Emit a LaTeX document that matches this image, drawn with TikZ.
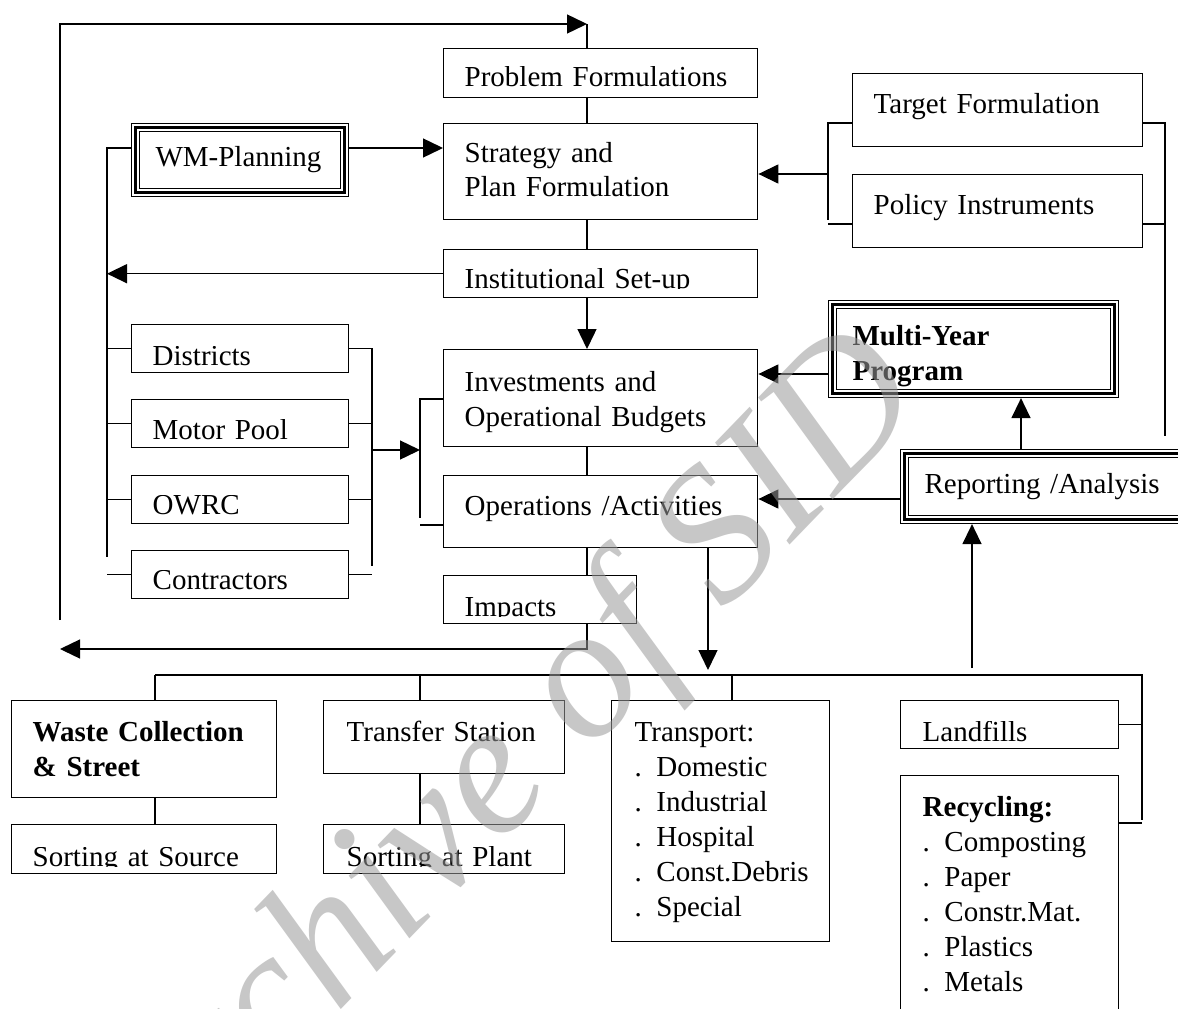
\documentclass[tikz,border=0pt]{standalone}
\usepackage{fontspec}
\setmainfont{Liberation Serif}
\usepackage{trimclip}
\usetikzlibrary{arrows.meta}

% text whose lower part is cut off at the baseline
\newcommand\cutbase[1]{\clipbox{0pt {\depth} 0pt 0pt}{#1}}
% inner thick and thin frames of a triple-lined box
\newcommand\triframe[1]{%
  \draw[line width=2.6pt] ([shift={(4.5,4.5)}]#1.north west) rectangle ([shift={(-4.5,-4.5)}]#1.south east);
  \draw[line width=1.1pt] ([shift={(8.5,8.5)}]#1.north west) rectangle ([shift={(-8.5,-8.5)}]#1.south east);}

\tikzset{
  ln/.style={line width=1.4pt},
  arr/.style={ln, -{Triangle[length=20pt,width=19pt]}},
  lead/.style={font=\fontsize{29}{#1}\selectfont},
  box/.style={draw, line width=1.4pt, anchor=north west, inner sep=0pt,
    align=left, lead=35},
  tri/.style={box, line width=1.1pt},
  sz/.style n args={4}{text width=#1pt, text height=#2pt, text depth=#3pt,
    execute at begin node={\leftskip=#4pt\relax}},
}

\begin{document}
\begin{tikzpicture}[x=1pt,y=-1pt]
\useasboundingbox (0,0) rectangle (1178,1009);
\fill[white] (0,0) rectangle (1178,1009);
\clip (0,0) rectangle (1178,1009);

% ---- central column
\node[box, sz={314}{38}{11}{21}] (pf) at (443,48) {\cutbase{Problem Formulations}};
\node[box, sz={314}{39}{57}{21}, lead=34] (st) at (443,123) {Strategy and\\Plan Formulation};
\node[box, sz={314}{39}{9}{21}] (inst) at (443,249) {\cutbase{Institutional Set-up}};
\node[box, sz={314}{42}{55}{21}, lead=34.5] (inv) at (443,349) {Investments and\\Operational Budgets};
\node[box, sz={314}{39.5}{32.5}{21}] (ops) at (443,475) {Operations /Activities};
\node[box, sz={193}{40.5}{7.5}{21}] (imp) at (443,575) {\cutbase{Impacts}};

% ---- planning and organisation (left)
\node[tri, sz={217}{43}{30}{24}] (wm) at (131,123) {WM-Planning};
\triframe{wm}
\node[box, sz={217}{40.5}{7.5}{21}] (dis) at (131,324) {\cutbase{Districts}};
\node[box, sz={217}{39.5}{8.5}{21}] (mp) at (131,399) {\cutbase{Motor Pool}};
\node[box, sz={217}{38.5}{9.5}{21}] (ow) at (131,475) {\cutbase{OWRC}};
\node[box, sz={217}{38.5}{9.5}{21}] (co) at (131,550) {\cutbase{Contractors}};

% ---- targets, programme and reporting (right)
\node[box, sz={290}{39.5}{33.5}{21}] (tf) at (852,73) {Target Formulation};
\node[box, sz={290}{39.5}{33.5}{21}] (pi) at (852,174) {Policy Instruments};
\node[tri, sz={290}{44.5}{52.5}{24}] (my) at (828,300) {\textbf{Multi-Year}\\\textbf{Program}};
\triframe{my}
\node[tri, sz={295}{43.5}{30.5}{24}] (rep) at (900,449) {Reporting /Analysis};
\triframe{rep}

% ---- operational elements (bottom)
\node[box, sz={265}{41}{56}{21}] (wc) at (11,700) {\textbf{Waste Collection}\\\textbf{\& Street}};
\node[box, sz={265}{42}{7}{21}] (sas) at (11,824) {\cutbase{Sorting at Source}};
\node[box, sz={241}{41}{32}{23}] (ts) at (323,700) {Transfer Station};
\node[box, sz={241}{42}{7}{23}] (sap) at (323,824) {\cutbase{Sorting at Plant}};
\node[box, sz={218}{41}{200}{23}] (tr) at (611,700)
  {Transport:\\. Domestic\\. Industrial\\. Hospital\\. Const.Debris\\. Special};
\node[box, sz={218}{41}{7}{22}] (lf) at (900,700) {\cutbase{Landfills}};
\node[box, sz={218}{41}{214}{22}] (rc) at (900,775)
  {\textbf{Recycling:}\\. Composting\\. Paper\\. Constr.Mat.\\. Plastics\\. Metals};

% ---- junction points
\coordinate (spine) at (587,24);
\coordinate (fbL) at (60,620);
\coordinate (fbB) at (60,649);
\coordinate (r148) at (0,148);
\coordinate (lbus) at (107,0);
\coordinate (lbEnd) at (107,557);
\coordinate (rbus) at (372,0);
\coordinate (rbEnd) at (372,566);
\coordinate (rbA) at (372,450);
\coordinate (ioA) at (420,450);
\coordinate (ioTop) at (420,399);
\coordinate (ioBot) at (420,518);
\coordinate (ioLow) at (420,525);
\coordinate (tbTop) at (828,123);
\coordinate (tbBot) at (828,220);
\coordinate (tbLow) at (828,224);
\coordinate (tbA) at (828,174);
\coordinate (rtTop) at (1165,123);
\coordinate (rtLow) at (1165,224);
\coordinate (rtBot) at (1165,436);
\coordinate (myA) at (0,374);
\coordinate (repUp) at (1021,0);
\coordinate (repL) at (0,499);
\coordinate (upStart) at (972,668);
\coordinate (opsDown) at (708,670);
\coordinate (busL) at (155,675);
\coordinate (bus2) at (420,675);
\coordinate (bus3) at (732,675);
\coordinate (busR) at (1142,675);
\coordinate (busEnd) at (1142,820);
\coordinate (rcJ) at (1142,823);

% ---- feedback loop and central spine
\draw[arr] (fbL) |- (spine);
\draw[ln] (spine) -- (pf.north -| spine);
\draw[ln] (pf.south -| spine) -- (st.north -| spine);
\draw[ln] (st.south -| spine) -- (inst.north -| spine);
\draw[arr] (inst.south -| spine) -- (inv.north -| spine);
\draw[ln] (inv.south -| spine) -- (ops.north -| spine);
\draw[ln] (ops.south -| spine) -- (imp.north -| spine);
\draw[arr] (imp.south -| spine) |- (fbB);

% ---- left side
\draw[arr] (wm.east |- r148) -- (st.west |- r148);
\draw[ln] (wm.west |- r148) -| (lbEnd);
\draw[arr] (inst.west) -- (inst.west -| lbus);
\foreach \n in {dis,mp,ow,co} \draw[ln] (\n.west) -- (\n.west -| lbus);
\draw[ln] (dis.east) -| (rbEnd);
\foreach \n in {mp,ow,co} \draw[ln] (\n.east) -- (\n.east -| rbus);
\draw[arr] (rbA) -- (ioA);
\draw[ln] (inv.west |- ioTop) -- (ioTop) -- (ioBot);
\draw[ln] (ioLow) -- (ops.west |- ioLow);

% ---- right side
\draw[ln] (tf.west |- tbTop) -- (tbTop) -- (tbBot);
\draw[ln] (tbLow) -- (pi.west |- tbLow);
\draw[arr] (tbA) -- (st.east |- tbA);
\draw[ln] (tf.east |- rtTop) -- (rtTop) -- (rtBot);
\draw[ln] (pi.east |- rtLow) -- (rtLow);
\draw[arr] (my.west |- myA) -- (inv.east |- myA);
\draw[arr] (rep.north -| repUp) -- (my.south -| repUp);
\draw[arr] (rep.west |- repL) -- (ops.east |- repL);
\draw[arr] (upStart) -- (rep.south -| upStart);

% ---- distribution to the operational elements
\draw[arr] (ops.south -| opsDown) -- (opsDown);
\draw[ln] (busL) -- (busR) -- (busEnd);
\draw[ln] (busL) -- (wc.north -| busL);
\draw[ln] (bus2) -- (ts.north -| bus2);
\draw[ln] (bus3) -- (tr.north -| bus3);
\draw[ln] (lf.east) -- (lf.east -| busR);
\draw[ln] (rc.east |- rcJ) -- (rcJ);
\draw[ln] (wc.south -| busL) -- (sas.north -| busL);
\draw[ln] (ts.south -| bus2) -- (sap.north -| bus2);

% ---- archive stamp
\node[font=\fontsize{190}{190}\selectfont\itshape, text=black!40, opacity=0.55,
  rotate=46, anchor=base east, inner sep=0pt] (stamp) at (930,400) {Archive of SID};
\end{tikzpicture}
\end{document}
